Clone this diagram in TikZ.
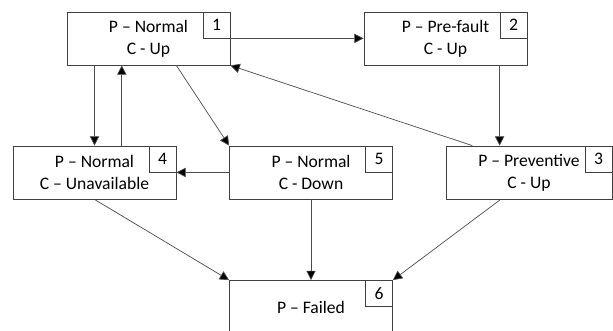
\documentclass[tikz,border=0pt]{standalone}
\usepackage{fontspec}
\setmainfont{Carlito}
\usetikzlibrary{calc,arrows.meta}
\tikzset{
  state/.style={draw=black!75, line width=0.7pt, minimum width=4.89cm, minimum height=1.59cm,
    align=center, inner sep=0pt, font=\fontsize{15}{18.8}\selectfont},
  numbox/.style={draw=black!75, line width=0.7pt, minimum width=0.81cm, minimum height=0.78cm,
    inner sep=0pt, anchor=north east, font=\fontsize{15}{18}\selectfont},
  trans/.style={draw=black!70, line width=0.6pt, -{Triangle[length=2.8mm,width=2.8mm,fill=black]}}
}

\begin{document}
\begin{tikzpicture}[x=0.03cm, y=-0.03cm]
			%%%%% START %%%%%
			\useasboundingbox (0, 0) rectangle (613, 330);
			\clip (0, 0) rectangle (613, 330);
			
			% states
			\node[state] (s1) at (148.5, 38.5) {P -- Normal\\C - Up};
			\node[numbox] (n1) at (s1.north east) {1};
			
			\node[state] (s2) at (445.5, 38.5) {P -- Pre-fault\\C - Up};
			\node[numbox] (n2) at (s2.north east) {2};
			
			\node[state] (s4) at (94.5, 172.5) {P -- Normal\\C -- Unavailable};
			\node[numbox] (n4) at (s4.north east) {4};
			
			\node[state] (s5) at (311, 172.5) {P -- Normal\\C - Down};
			\node[numbox] (n5) at (s5.north east) {5};
			
			\node[state, minimum width=4.98cm] (s3) at (529, 172.5) {P -- Preventive\\C - Up};
			\node[numbox] (n3) at (s3.north east) {3};
			
			\node[state] (s6) at (311, 307) {P -- Failed};
			\node[numbox] (n6) at (s6.north east) {6};
			
			% transitions
			\draw[trans] (n1.south east) -- (n1.south east -| s2.west);
			\draw[trans] (n2.south west |- s2.south) -- (n2.south west |- s3.north);
			
			\draw[trans] (s4.north |- s1.south) -- (s4.north);
			\coordinate (up4) at ($(s1.south west)!0.337!(s1.south east)$);
			\draw[trans] (up4 |- s4.north) -- (up4);
			
			\coordinate (out1) at ($(s1.south west)!0.67!(s1.south east)$);
			\draw[trans] (out1) -- (s5.north west);
			
			\coordinate (out3) at ($(s3.north west)!0.16!(s3.north east)$);
			\draw[trans] (out3) -- (s1.south east);
			
			\draw[trans] (s5.west |- n4.south) -- (n4.south east);
			
			\draw[trans] (s4.south) -- (s6.north west);
			\draw[trans] (s5.south) -- (s6.north);
			\coordinate (bot3) at ($(s3.south west)!0.33!(s3.south east)$);
			\draw[trans] (bot3) -- (s6.north east);
			
			%%%%% END %%%%%
\end{tikzpicture}
\end{document}
